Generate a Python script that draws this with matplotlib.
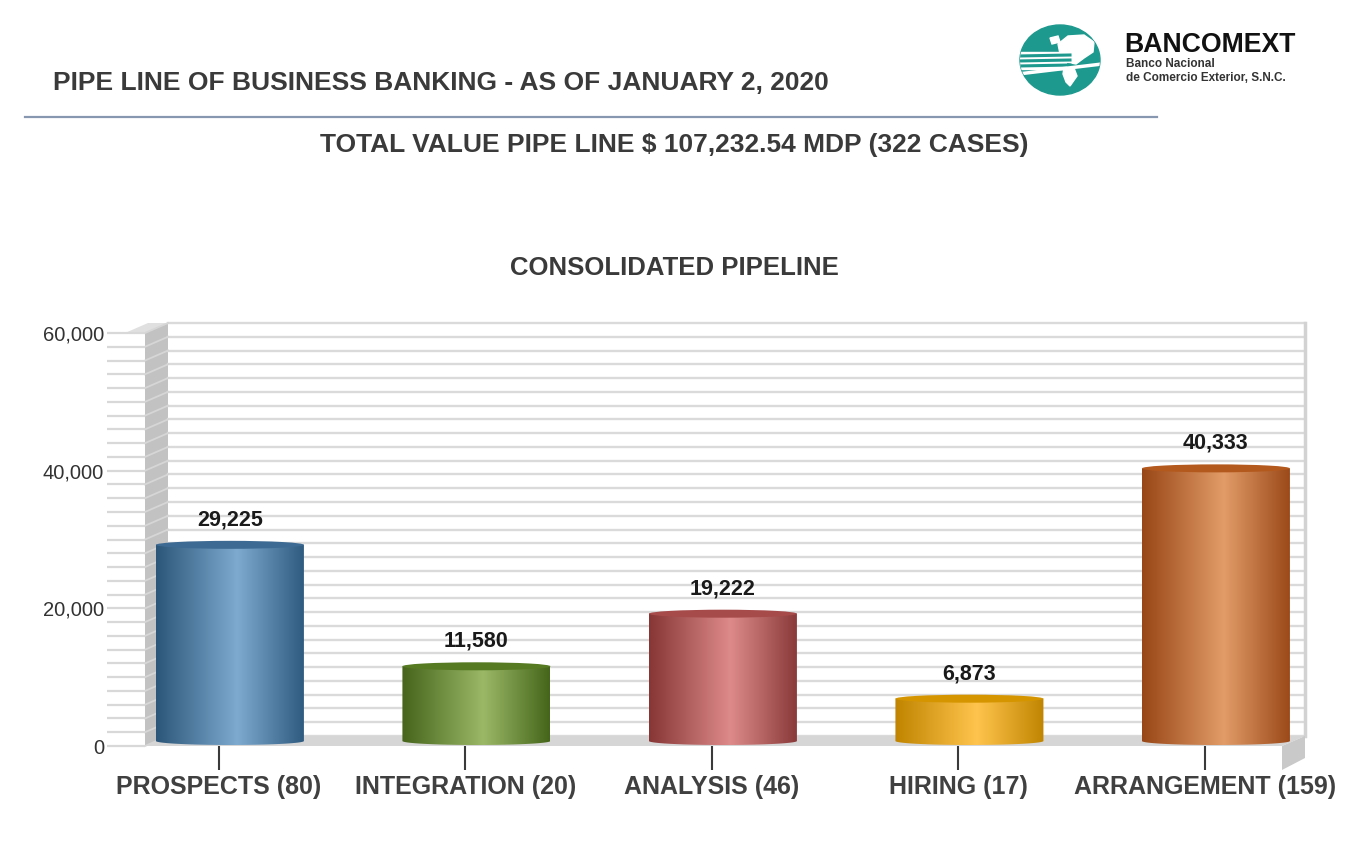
import numpy as np
import matplotlib
matplotlib.use("Agg")
import matplotlib.pyplot as plt
from matplotlib.patches import Polygon, Ellipse, PathPatch, Rectangle
from matplotlib.path import Path
from matplotlib.colors import LinearSegmentedColormap

plt.rcParams["font.family"] = ["Liberation Sans", "DejaVu Sans"]

# data
categories = ["PROSPECTS (80)", "INTEGRATION (20)", "ANALYSIS (46)",
              "HIRING (17)", "ARRANGEMENT (159)"]
values = [29225, 11580, 19222, 6873, 40333]
value_labels = ["29,225", "11,580", "19,222", "6,873", "40,333"]
y_ticks = [0, 20000, 40000, 60000]
y_ticklabels = ["0", "20,000", "40,000", "60,000"]

# cylinder colours: edge, highlight, far edge, top face
bar_styles = [
    ("#2c5679", "#7eaad0", "#2f5b80", "#3d6a92"),
    ("#46651b", "#9bb867", "#45661a", "#567a22"),
    ("#873535", "#de8a8a", "#8a3a3a", "#a64a4a"),
    ("#c08400", "#ffc44d", "#c08500", "#d49500"),
    ("#984615", "#e29c68", "#9a4817", "#b4591e"),
]

W, H = 1346, 844
fig = plt.figure(figsize=(W / 100, H / 100), dpi=100)

# background layer in pixel coordinates (header, logo)
bg = fig.add_axes([0, 0, 1, 1], zorder=0)
bg.set_xlim(0, W)
bg.set_ylim(H, 0)
bg.axis("off")

txt = "#3a3a3a"
bg.text(53, 83, "PIPE LINE OF BUSINESS BANKING - AS OF JANUARY 2, 2020",
        fontsize=19, fontweight="bold", color=txt, va="center", ha="left")
bg.plot([25, 1157], [117, 117], color="#8797b0", lw=1.6)
bg.text(674, 145, "TOTAL VALUE PIPE LINE $ 107,232.54 MDP (322 CASES)",
        fontsize=19, fontweight="bold", color=txt, va="center", ha="center")
bg.text(674, 268, "CONSOLIDATED PIPELINE",
        fontsize=18.5, fontweight="bold", color=txt, va="center", ha="center")

# logo: teal globe with white land and bands
teal = "#1e998e"
globe = Ellipse((1060, 60), 80, 70, color=teal)
bg.add_patch(globe)
shapes = [
    Rectangle((1018, 52), 48, 17, color="white"),
    Polygon([(1058, 44), (1068, 36), (1084, 35), (1094, 42), (1093, 52),
             (1084, 58), (1076, 64), (1066, 62), (1060, 54)], color="white"),
    Polygon([(1064, 68), (1074, 68), (1077, 76), (1070, 86), (1066, 82),
             (1063, 74)], color="white"),
    Polygon([(1050, 38), (1058, 36), (1060, 42), (1052, 44)], color="white"),
]
for sh in shapes:
    bg.add_patch(sh)
    sh.set_clip_path(globe)
for y0 in [56, 61, 66]:
    ln, = bg.plot([1018, 1070], [y0, y0 - 1], color=teal, lw=2.2)
    ln.set_clip_path(globe)
arc_x = np.linspace(1018, 1102, 40)
arc, = bg.plot(arc_x, 74 - 10 * ((arc_x - 1018) / 84), color="white", lw=2.5)
arc.set_clip_path(globe)

bg.text(1124, 45, "BANCOMEXT", fontsize=19.2, fontweight="bold",
        color="#111111", va="center", ha="left")
bg.text(1126, 64, "Banco Nacional", fontsize=8.5, fontweight="bold",
        color="#333333", va="center", ha="left")
bg.text(1126, 78, "de Comercio Exterior, S.N.C.", fontsize=8.5,
        fontweight="bold", color="#333333", va="center", ha="left")

# main chart axes (front plane)
left_px, right_px, top_px, bot_px = 107, 1305, 333, 746
ax = fig.add_axes([left_px / W, (H - bot_px) / H,
                   (right_px - left_px) / W, (bot_px - top_px) / H], zorder=1)
ax.patch.set_alpha(0)
xmin, xmax = -0.454, 4.406
ymax = 60000
PX_X = (xmax - xmin) / (right_px - left_px)
PX_Y = ymax / (bot_px - top_px)
DX, DY = 23 * PX_X, 10 * PX_Y
x_wf = xmin + 38 * PX_X
x_wb = x_wf + DX
grid_vals = np.arange(0, ymax + 1, 2000)

# left wall and back plane grid
ax.add_patch(Polygon([(x_wf, 0), (x_wf, ymax), (x_wb, ymax + DY), (x_wb, DY)],
                     closed=True, fc="#c2c2c2", ec="none", clip_on=False, zorder=1))
for v in grid_vals:
    ax.plot([x_wf, x_wb], [v, v + DY], color="#d6d6d6", lw=1.3,
            clip_on=False, zorder=1.5)
    ax.plot([x_wb, xmax], [v + DY, v + DY], color="#dadada", lw=1.7,
            clip_on=False, zorder=1)
ax.add_patch(Polygon([(x_wf - 20 * PX_X, ymax), (x_wf, ymax),
                      (x_wb, ymax + DY), (x_wb - 20 * PX_X, ymax + DY)],
                     closed=True, fc="#e0e0e0", ec="none", clip_on=False, zorder=1))
ax.plot([xmax, xmax], [DY, ymax + DY], color="#d2d2d2", lw=2.5,
        clip_on=False, zorder=1.5)

# floor
x_fr = xmax - DX
ax.add_patch(Polygon([(x_wf, 0), (x_fr, 0), (xmax, DY), (x_wb, DY)],
                     closed=True, fc="#d6d6d6", ec="none", clip_on=False, zorder=2))
ax.add_patch(Polygon([(x_fr, 0), (xmax, DY), (xmax, -12 * PX_Y), (x_fr, -24 * PX_Y)],
                     closed=True, fc="#c9c9c9", ec="none", clip_on=False, zorder=2))

# cylinders
hw = 74 * PX_X
eh = 4 * PX_Y
yb = 5 * PX_Y
grad = np.linspace(0, 1, 256)[np.newaxis, :]
t = np.linspace(np.pi, 2 * np.pi, 60)
for i, (v, lab, st) in enumerate(zip(values, value_labels, bar_styles)):
    xc = i + 11 * PX_X
    cmap = LinearSegmentedColormap.from_list(
        f"cyl{i}", [(0, st[0]), (0.55, st[1]), (1, st[2])])
    verts = [(xc + hw * np.cos(a), yb + eh * np.sin(a)) for a in t]
    verts += [(xc + hw, v), (xc - hw, v), verts[0]]
    body = PathPatch(Path(verts), transform=ax.transData, fc="none", ec="none")
    ax.add_patch(body)
    im = ax.imshow(grad, extent=[xc - hw, xc + hw, yb - eh, v], aspect="auto",
                   cmap=cmap, interpolation="bicubic", zorder=3)
    im.set_clip_path(body)
    ax.add_patch(Ellipse((xc, v), 2 * hw, 2 * eh, fc=st[3], ec="none", zorder=4))
    ax.annotate(lab, (xc, v), xytext=(0, 18), textcoords="offset points",
                ha="center", va="center", fontsize=15.5, fontweight="bold",
                color="#1a1a1a", zorder=5)

ax.set_xlim(xmin, xmax)
ax.set_ylim(0, ymax)
for s in ax.spines.values():
    s.set_visible(False)

ax.set_xticks(range(len(categories)))
ax.set_xticklabels(categories, fontsize=18, fontweight="bold", color="#404040")
ax.tick_params(axis="x", length=17, width=1.5, color="#3a3a3a", pad=4,
               direction="out")
ax.set_yticks(y_ticks)
ax.set_yticklabels(y_ticklabels, fontsize=14.5, color="#333333")
ax.set_yticks(grid_vals, minor=True)
ax.tick_params(axis="y", which="both", direction="in", length=27.4,
               width=1.6, color="#d8d8d8", pad=2)

fig.savefig("out.png", dpi=100)
